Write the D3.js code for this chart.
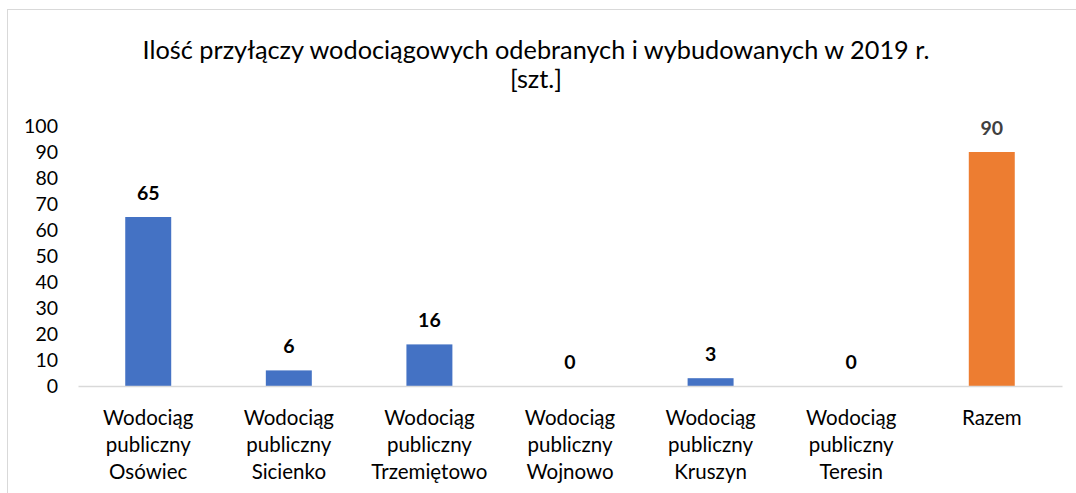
<!DOCTYPE html>
<html lang="pl">
<head>
  <meta charset="UTF-8">
  <style>
    html, body { margin: 0; padding: 0; background: #fff; }
    text { font-family: Lato, "Open Sans", sans-serif; fill: #000; }
  </style>
  <script src="https://d3js.org/d3.v7.min.js"></script>
</head>
<body>
  <svg id="chart" width="1076" height="493"></svg>

  <script>
    // chart data
    const categories = [
      "Wodociąg publiczny Osówiec",
      "Wodociąg publiczny Sicienko",
      "Wodociąg publiczny Trzemiętowo",
      "Wodociąg publiczny Wojnowo",
      "Wodociąg publiczny Kruszyn",
      "Wodociąg publiczny Teresin",
      "Razem"
    ];
    const values = [65, 6, 16, 0, 3, 0, 90];
    const yTicks = [0, 10, 20, 30, 40, 50, 60, 70, 80, 90, 100];
    const titleLines = ["Ilość przyłączy wodociągowych odebranych i wybudowanych w 2019 r.", "[szt.]"];

    const svg = d3.select("#chart");

    // outer chart border (Excel style)
    svg.append("rect")
      .attr("x", 7.5).attr("y", 9.5)
      .attr("width", 1080).attr("height", 500)
      .attr("fill", "none")
      .attr("stroke", "#d9d9d9");

    const x = d3.scaleBand().domain(categories).range([78, 1062]).paddingInner(0.673).paddingOuter(0.336);
    const y = d3.scaleLinear().domain([0, 100]).range([386, 126]);

    // title
    svg.append("g").selectAll("text")
      .data(titleLines)
      .enter().append("text")
      .attr("x", 536)
      .attr("y", (d, i) => 59 + i * 29)
      .attr("text-anchor", "middle")
      .attr("font-size", "25.3px")
      .text(d => d);

    // bars
    svg.append("g").selectAll("rect")
      .data(values)
      .enter().append("rect")
      .attr("x", (d, i) => x(categories[i]))
      .attr("y", d => y(d))
      .attr("width", x.bandwidth())
      .attr("height", d => y(0) - y(d))
      .attr("fill", (d, i) => i === values.length - 1 ? "#ed7d31" : "#4472c4");

    // data labels
    svg.append("g").selectAll("text")
      .data(values)
      .enter().append("text")
      .attr("x", (d, i) => x(categories[i]) + x.bandwidth() / 2)
      .attr("y", d => y(d) - 17)
      .attr("text-anchor", "middle")
      .attr("font-size", "19.5px")
      .attr("font-weight", "bold")
      .style("fill", (d, i) => i === values.length - 1 ? "#404040" : "#000")
      .text(d => d);

    // y axis (no line, labels only)
    const yAxis = svg.append("g")
      .attr("transform", "translate(58,0)")
      .call(d3.axisLeft(y).tickValues(yTicks).tickSize(0).tickPadding(0));
    yAxis.select(".domain").remove();
    yAxis.selectAll("text")
      .attr("font-size", "19.5px")
      .attr("font-family", "Lato, sans-serif")
      .style("fill", "#000");

    // x axis
    const xAxis = svg.append("g")
      .attr("transform", "translate(0,386)")
      .call(d3.axisBottom(x).tickSize(0).tickFormat(""));
    xAxis.select(".domain").attr("stroke", "#d9d9d9").attr("stroke-width", 1.5);

    // category labels, wrapped on three lines
    const catLabels = svg.append("g").selectAll("text")
      .data(categories)
      .enter().append("text")
      .attr("x", d => x(d) + x.bandwidth() / 2)
      .attr("y", 425)
      .attr("text-anchor", "middle")
      .attr("font-size", "20.5px");

    catLabels.each(function(d) {
      const t = d3.select(this);
      const words = d === "Razem" ? ["Razem"] : ["Wodociąg", "publiczny", d.split(" ").pop()];
      words.forEach((w, j) => {
        t.append("tspan")
          .attr("x", t.attr("x"))
          .attr("dy", j === 0 ? 0 : 27)
          .text(w);
      });
    });
  </script>
</body>
</html>
